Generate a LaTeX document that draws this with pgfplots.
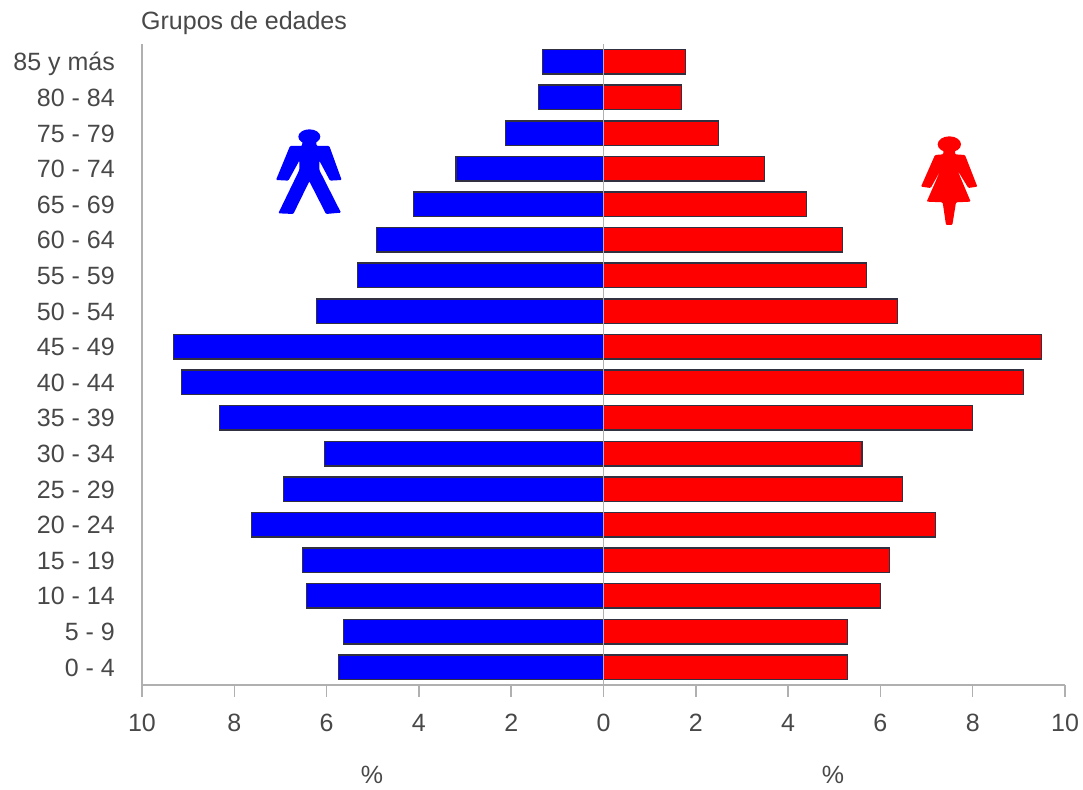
\documentclass[border=0pt]{standalone}
\usepackage{pgfplots}
\pgfplotsset{compat=1.18}
\usepackage{fontspec}
\setmainfont{Liberation Sans}
\definecolor{txt}{HTML}{484848}
\definecolor{axln}{HTML}{B0B0B0}
\definecolor{barln}{HTML}{303040}

\begin{document}
\begin{tikzpicture}
\fontsize{25}{30}\selectfont
\path[use as bounding box] (-142pt,-104pt) rectangle (941pt,685pt);
\begin{axis}[
    at={(0pt,0pt)}, anchor=south west,
    scale only axis,
    width=923pt, height=641pt,
    xmin=-10, xmax=10,
    ymin=-0.5, ymax=17.5,
    axis x line*=bottom,
    axis y line*=left,
    axis line style={axln, line width=1.8pt},
    xtick={-10,-8,-6,-4,-2,0,2,4,6,8,10},
    xticklabels={10,8,6,4,2,0,2,4,6,8,10},
    ytick={0,...,17},
    yticklabels={0 - 4,5 - 9,10 - 14,15 - 19,20 - 24,25 - 29,30 - 34,35 - 39,40 - 44,45 - 49,50 - 54,55 - 59,60 - 64,65 - 69,70 - 74,75 - 79,80 - 84,85 y más},
    tick align=outside,
    major tick length=12pt,
    xtick style={axln, line width=1.5pt},
    ytick style={draw=none},
    tick label style={font=\fontsize{25}{30}\selectfont, text=txt, text height=18pt, text depth=0pt, inner sep=0pt},
    yticklabel style={xshift=-15pt},
    xticklabel style={yshift=-16pt},
    xbar,
    bar shift=0pt,
    bar width=24.5pt,
    clip=false,
]
\addplot[fill=blue, draw=barln, line width=1.5pt] coordinates {
    (-5.74,0) (-5.63,1) (-6.44,2) (-6.52,3) (-7.63,4) (-6.93,5)
    (-6.05,6) (-8.32,7) (-9.14,8) (-9.32,9) (-6.22,10) (-5.33,11)
    (-4.92,12) (-4.12,13) (-3.20,14) (-2.12,15) (-1.41,16) (-1.32,17)};
\addplot[fill=red, draw=barln, line width=1.5pt] coordinates {
    (5.29,0) (5.29,1) (6.00,2) (6.20,3) (7.19,4) (6.48,5)
    (5.60,6) (8.00,7) (9.10,8) (9.49,9) (6.37,10) (5.70,11)
    (5.18,12) (4.40,13) (3.49,14) (2.49,15) (1.69,16) (1.78,17)};
\draw[axln, line width=1.2pt] (axis cs:0,-0.5) -- (axis cs:0,17.5);
\end{axis}
% everything below in reference pixel coordinates
\begin{scope}[shift={(-142pt,685pt)}, x=1pt, y=-1pt]
\node[anchor=base west, inner sep=0pt, text=txt] at (141,30) {Grupos de edades};
\node[anchor=base, inner sep=0pt, text=txt] at (372,783) {\%};
\node[anchor=base, inner sep=0pt, text=txt] at (833,783) {\%};
\end{scope}
% man, zoom coordinates
\begin{scope}[shift={(118pt,565pt)}, x=0.3333pt, y=-0.3333pt]
\fill[blue] (148,50) ellipse[x radius=33, y radius=22];
\fill[blue, rounded corners=1pt] (128,60) -- (168,60) -- (170,78) -- (208,78) -- (245,180) -- (210,182)
  -- (178,122) -- (178,150) -- (243,278) -- (198,282) -- (148,184) -- (100,282) -- (55,280)
  -- (118,150) -- (118,122) -- (85,182) -- (48,180) -- (90,78) -- (126,78) -- cycle;
\end{scope}
% woman
\begin{scope}[shift={(758pt,560pt)}, x=0.3333pt, y=-0.3333pt]
\fill[red] (148,58) ellipse[x radius=35, y radius=24];
\fill[red, rounded corners=1pt] (130,70) -- (165,70) -- (165,88) -- (195,90) -- (232,185) -- (205,189)
  -- (172,135) -- (212,230) -- (168,232) -- (157,300) -- (138,300) -- (128,232) -- (80,230)
  -- (122,135) -- (92,189) -- (63,185) -- (105,90) -- (130,88) -- cycle;
\end{scope}
\end{tikzpicture}
\end{document}
